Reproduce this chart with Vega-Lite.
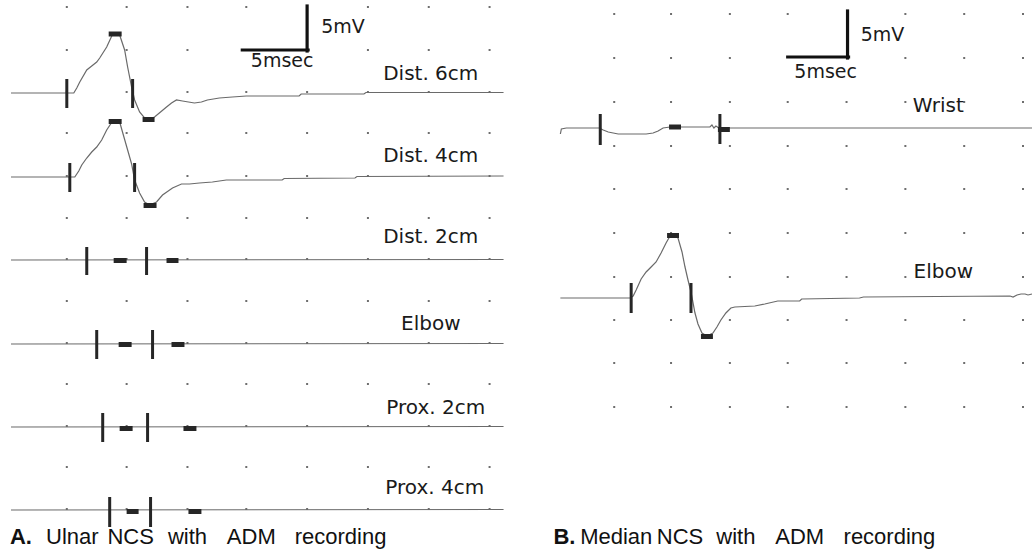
{
  "$schema": "https://vega.github.io/schema/vega-lite/v6.json",
  "width": 1035,
  "height": 555,
  "autosize": {"type": "fit", "contains": "padding"},
  "padding": 0,
  "background": "white",
  "config": {"view": {"stroke": null}},
  "datasets": {
    "dots": [
      {"y": 7, "xs": [67, 127, 188, 247, 369, 430, 491]},
      {"y": 50, "xs": [67, 127, 188, 369, 430, 491]},
      {"y": 92, "xs": [67, 127, 188, 247, 308, 369, 430, 491]},
      {"y": 133, "xs": [67, 127, 188, 247, 308, 369, 430, 491]},
      {"y": 176, "xs": [67, 127, 188, 247, 308, 369, 430, 491]},
      {"y": 218, "xs": [67, 127, 188, 247, 308, 369, 430, 491]},
      {"y": 259, "xs": [67, 127, 188, 247, 308, 369, 430, 491]},
      {"y": 301, "xs": [67, 127, 188, 247, 308, 369, 430, 491]},
      {"y": 343, "xs": [67, 127, 188, 247, 308, 369, 430, 491]},
      {"y": 384, "xs": [67, 127, 188, 247, 308, 369, 430, 491]},
      {"y": 426, "xs": [67, 127, 188, 247, 308, 369, 430, 491]},
      {"y": 467, "xs": [67, 127, 188, 247, 308, 369, 430, 491]},
      {"y": 509, "xs": [67, 127, 188, 247, 308, 369, 430, 491]},
      {"y": 14, "xs": [616, 673, 732, 790, 908, 967, 1026]},
      {"y": 58, "xs": [616, 673, 732, 908, 967, 1026]},
      {"y": 102, "xs": [616, 673, 732, 790, 849, 908, 967, 1026]},
      {"y": 146, "xs": [616, 673, 732, 790, 849, 908, 967, 1026]},
      {"y": 189, "xs": [616, 673, 732, 790, 849, 908, 967, 1026]},
      {"y": 233, "xs": [616, 673, 732, 790, 849, 908, 967, 1026]},
      {"y": 277, "xs": [616, 673, 732, 790, 849, 908, 967, 1026]},
      {"y": 320, "xs": [616, 673, 732, 790, 849, 908, 967, 1026]},
      {"y": 363, "xs": [616, 673, 732, 790, 849, 908, 967, 1026]},
      {"y": 407, "xs": [616, 673, 732, 790, 849, 908, 967, 1026]}
    ],
    "traces": [
      {"t": "A Dist. 6cm", "x": 11, "y": 93}, {"t": "A Dist. 6cm", "x": 66, "y": 93}, {"t": "A Dist. 6cm", "x": 74, "y": 93},
      {"t": "A Dist. 6cm", "x": 77, "y": 88}, {"t": "A Dist. 6cm", "x": 80, "y": 82}, {"t": "A Dist. 6cm", "x": 87, "y": 70},
      {"t": "A Dist. 6cm", "x": 92, "y": 66}, {"t": "A Dist. 6cm", "x": 97, "y": 62}, {"t": "A Dist. 6cm", "x": 100, "y": 58},
      {"t": "A Dist. 6cm", "x": 107, "y": 47}, {"t": "A Dist. 6cm", "x": 113, "y": 34}, {"t": "A Dist. 6cm", "x": 117, "y": 33},
      {"t": "A Dist. 6cm", "x": 120, "y": 35}, {"t": "A Dist. 6cm", "x": 125, "y": 50}, {"t": "A Dist. 6cm", "x": 128, "y": 67},
      {"t": "A Dist. 6cm", "x": 132, "y": 87}, {"t": "A Dist. 6cm", "x": 135, "y": 100}, {"t": "A Dist. 6cm", "x": 140, "y": 112},
      {"t": "A Dist. 6cm", "x": 145, "y": 118}, {"t": "A Dist. 6cm", "x": 150, "y": 119}, {"t": "A Dist. 6cm", "x": 155, "y": 117},
      {"t": "A Dist. 6cm", "x": 161, "y": 112}, {"t": "A Dist. 6cm", "x": 167, "y": 107}, {"t": "A Dist. 6cm", "x": 172, "y": 103},
      {"t": "A Dist. 6cm", "x": 177, "y": 100}, {"t": "A Dist. 6cm", "x": 183, "y": 101}, {"t": "A Dist. 6cm", "x": 189, "y": 102},
      {"t": "A Dist. 6cm", "x": 195, "y": 103}, {"t": "A Dist. 6cm", "x": 202, "y": 102}, {"t": "A Dist. 6cm", "x": 208, "y": 100},
      {"t": "A Dist. 6cm", "x": 214, "y": 99}, {"t": "A Dist. 6cm", "x": 220, "y": 98}, {"t": "A Dist. 6cm", "x": 233, "y": 97},
      {"t": "A Dist. 6cm", "x": 247, "y": 96}, {"t": "A Dist. 6cm", "x": 300, "y": 96}, {"t": "A Dist. 6cm", "x": 302, "y": 94},
      {"t": "A Dist. 6cm", "x": 365, "y": 94}, {"t": "A Dist. 6cm", "x": 367, "y": 92.5}, {"t": "A Dist. 6cm", "x": 505, "y": 92.5},

      {"t": "A Dist. 4cm", "x": 11, "y": 177}, {"t": "A Dist. 4cm", "x": 69, "y": 177}, {"t": "A Dist. 4cm", "x": 75, "y": 177},
      {"t": "A Dist. 4cm", "x": 79, "y": 171}, {"t": "A Dist. 4cm", "x": 82, "y": 165}, {"t": "A Dist. 4cm", "x": 87, "y": 158},
      {"t": "A Dist. 4cm", "x": 92, "y": 152}, {"t": "A Dist. 4cm", "x": 97, "y": 147}, {"t": "A Dist. 4cm", "x": 102, "y": 140},
      {"t": "A Dist. 4cm", "x": 107, "y": 130}, {"t": "A Dist. 4cm", "x": 113, "y": 121}, {"t": "A Dist. 4cm", "x": 117, "y": 120},
      {"t": "A Dist. 4cm", "x": 120, "y": 122}, {"t": "A Dist. 4cm", "x": 124, "y": 136}, {"t": "A Dist. 4cm", "x": 128, "y": 150},
      {"t": "A Dist. 4cm", "x": 132, "y": 164}, {"t": "A Dist. 4cm", "x": 135, "y": 180}, {"t": "A Dist. 4cm", "x": 140, "y": 193},
      {"t": "A Dist. 4cm", "x": 145, "y": 202}, {"t": "A Dist. 4cm", "x": 150, "y": 205}, {"t": "A Dist. 4cm", "x": 157, "y": 202},
      {"t": "A Dist. 4cm", "x": 163, "y": 195}, {"t": "A Dist. 4cm", "x": 173, "y": 188}, {"t": "A Dist. 4cm", "x": 182, "y": 184},
      {"t": "A Dist. 4cm", "x": 190, "y": 184}, {"t": "A Dist. 4cm", "x": 200, "y": 183}, {"t": "A Dist. 4cm", "x": 213, "y": 182},
      {"t": "A Dist. 4cm", "x": 227, "y": 180}, {"t": "A Dist. 4cm", "x": 283, "y": 180}, {"t": "A Dist. 4cm", "x": 285, "y": 178.5},
      {"t": "A Dist. 4cm", "x": 356, "y": 178}, {"t": "A Dist. 4cm", "x": 358, "y": 176.5}, {"t": "A Dist. 4cm", "x": 505, "y": 176},

      {"t": "A Dist. 2cm", "x": 11, "y": 260}, {"t": "A Dist. 2cm", "x": 505, "y": 259.5},
      {"t": "A Elbow", "x": 11, "y": 344}, {"t": "A Elbow", "x": 505, "y": 343.5},
      {"t": "A Prox. 2cm", "x": 11, "y": 427}, {"t": "A Prox. 2cm", "x": 505, "y": 426.5},
      {"t": "A Prox. 4cm", "x": 11, "y": 510}, {"t": "A Prox. 4cm", "x": 505, "y": 509.5},

      {"t": "B Wrist", "x": 562, "y": 134}, {"t": "B Wrist", "x": 563, "y": 129}, {"t": "B Wrist", "x": 568, "y": 128},
      {"t": "B Wrist", "x": 601, "y": 128}, {"t": "B Wrist", "x": 605, "y": 130}, {"t": "B Wrist", "x": 610, "y": 132},
      {"t": "B Wrist", "x": 620, "y": 134}, {"t": "B Wrist", "x": 648, "y": 134}, {"t": "B Wrist", "x": 655, "y": 133},
      {"t": "B Wrist", "x": 660, "y": 131}, {"t": "B Wrist", "x": 665, "y": 128}, {"t": "B Wrist", "x": 672, "y": 127},
      {"t": "B Wrist", "x": 712, "y": 127}, {"t": "B Wrist", "x": 714, "y": 125}, {"t": "B Wrist", "x": 716, "y": 128},
      {"t": "B Wrist", "x": 718, "y": 126}, {"t": "B Wrist", "x": 721, "y": 128}, {"t": "B Wrist", "x": 1035, "y": 128},

      {"t": "B Elbow", "x": 562, "y": 298}, {"t": "B Elbow", "x": 632, "y": 298}, {"t": "B Elbow", "x": 635, "y": 296},
      {"t": "B Elbow", "x": 638, "y": 290}, {"t": "B Elbow", "x": 643, "y": 279}, {"t": "B Elbow", "x": 648, "y": 272},
      {"t": "B Elbow", "x": 653, "y": 267}, {"t": "B Elbow", "x": 658, "y": 262}, {"t": "B Elbow", "x": 663, "y": 253},
      {"t": "B Elbow", "x": 668, "y": 243}, {"t": "B Elbow", "x": 672, "y": 236}, {"t": "B Elbow", "x": 676, "y": 235},
      {"t": "B Elbow", "x": 680, "y": 238}, {"t": "B Elbow", "x": 684, "y": 252}, {"t": "B Elbow", "x": 687, "y": 267},
      {"t": "B Elbow", "x": 690, "y": 280}, {"t": "B Elbow", "x": 693, "y": 292}, {"t": "B Elbow", "x": 697, "y": 313},
      {"t": "B Elbow", "x": 700, "y": 324}, {"t": "B Elbow", "x": 704, "y": 333}, {"t": "B Elbow", "x": 709, "y": 336},
      {"t": "B Elbow", "x": 715, "y": 333}, {"t": "B Elbow", "x": 719, "y": 327}, {"t": "B Elbow", "x": 723, "y": 320},
      {"t": "B Elbow", "x": 728, "y": 313}, {"t": "B Elbow", "x": 733, "y": 308}, {"t": "B Elbow", "x": 737, "y": 307},
      {"t": "B Elbow", "x": 757, "y": 306}, {"t": "B Elbow", "x": 767, "y": 304}, {"t": "B Elbow", "x": 780, "y": 301},
      {"t": "B Elbow", "x": 802, "y": 301}, {"t": "B Elbow", "x": 804, "y": 299}, {"t": "B Elbow", "x": 862, "y": 298},
      {"t": "B Elbow", "x": 866, "y": 297}, {"t": "B Elbow", "x": 1013, "y": 296}, {"t": "B Elbow", "x": 1016, "y": 297},
      {"t": "B Elbow", "x": 1020, "y": 295}, {"t": "B Elbow", "x": 1024, "y": 294}, {"t": "B Elbow", "x": 1028, "y": 294},
      {"t": "B Elbow", "x": 1031, "y": 295}, {"t": "B Elbow", "x": 1035, "y": 294}
    ],
    "cursors": [
      {"t": "A Dist. 6cm", "x": 67, "y": 79, "y2": 108}, {"t": "A Dist. 6cm", "x": 133, "y": 79, "y2": 108},
      {"t": "A Dist. 4cm", "x": 70, "y": 163, "y2": 192}, {"t": "A Dist. 4cm", "x": 135, "y": 163, "y2": 192},
      {"t": "A Dist. 2cm", "x": 87, "y": 247, "y2": 275}, {"t": "A Dist. 2cm", "x": 147, "y": 247, "y2": 275},
      {"t": "A Elbow", "x": 97, "y": 330, "y2": 359}, {"t": "A Elbow", "x": 153, "y": 330, "y2": 359},
      {"t": "A Prox. 2cm", "x": 103, "y": 413, "y2": 442}, {"t": "A Prox. 2cm", "x": 148, "y": 413, "y2": 442},
      {"t": "A Prox. 4cm", "x": 110, "y": 497, "y2": 527}, {"t": "A Prox. 4cm", "x": 151, "y": 497, "y2": 527},
      {"t": "B Wrist", "x": 602, "y": 114, "y2": 145}, {"t": "B Wrist", "x": 722, "y": 114, "y2": 144},
      {"t": "B Elbow", "x": 633, "y": 283, "y2": 313}, {"t": "B Elbow", "x": 693, "y": 283, "y2": 313}
    ],
    "peaks": [
      {"t": "A Dist. 6cm", "x": 109, "x2": 122, "y": 31.5, "y2": 36.5}, {"t": "A Dist. 6cm", "x": 143, "x2": 155, "y": 117, "y2": 122},
      {"t": "A Dist. 4cm", "x": 109, "x2": 122, "y": 119, "y2": 124}, {"t": "A Dist. 4cm", "x": 144, "x2": 157, "y": 203, "y2": 208},
      {"t": "A Dist. 2cm", "x": 114, "x2": 127, "y": 258, "y2": 263}, {"t": "A Dist. 2cm", "x": 167, "x2": 179, "y": 258, "y2": 263},
      {"t": "A Elbow", "x": 119, "x2": 132, "y": 342, "y2": 347}, {"t": "A Elbow", "x": 172, "x2": 185, "y": 342, "y2": 347},
      {"t": "A Prox. 2cm", "x": 120, "x2": 133, "y": 426, "y2": 431}, {"t": "A Prox. 2cm", "x": 184, "x2": 197, "y": 426, "y2": 431},
      {"t": "A Prox. 4cm", "x": 127, "x2": 139, "y": 509, "y2": 514}, {"t": "A Prox. 4cm", "x": 189, "x2": 202, "y": 509, "y2": 514},
      {"t": "B Wrist", "x": 671, "x2": 683, "y": 124.5, "y2": 129.5}, {"t": "B Wrist", "x": 720, "x2": 732, "y": 127, "y2": 132},
      {"t": "B Elbow", "x": 669, "x2": 681, "y": 233, "y2": 238}, {"t": "B Elbow", "x": 703, "x2": 715, "y": 334, "y2": 339}
    ],
    "scalebars": [
      {"x": 308, "x2": 308, "y": 6, "y2": 51}, {"x": 243, "x2": 309, "y": 50, "y2": 50},
      {"x": 850, "x2": 850, "y": 11, "y2": 58}, {"x": 790, "x2": 851, "y": 57, "y2": 57}
    ],
    "labels": [
      {"label": "Dist. 6cm", "x": 432, "y": 80},
      {"label": "Dist. 4cm", "x": 432, "y": 162},
      {"label": "Dist. 2cm", "x": 432, "y": 243},
      {"label": "Elbow", "x": 432, "y": 330},
      {"label": "Prox. 2cm", "x": 437, "y": 414},
      {"label": "Prox. 4cm", "x": 436, "y": 494},
      {"label": "Wrist", "x": 941, "y": 112},
      {"label": "Elbow", "x": 946, "y": 278}
    ],
    "scalelabels": [
      {"label": "5mV", "x": 344, "y": 33},
      {"label": "5msec", "x": 283, "y": 67},
      {"label": "5mV", "x": 885, "y": 41},
      {"label": "5msec", "x": 828, "y": 78}
    ],
    "captionBold": [
      {"label": "A.", "x": 10, "y": 544},
      {"label": "B.", "x": 555, "y": 544}
    ],
    "captionWords": [
      {"label": "Ulnar", "x": 72.5, "y": 544}, {"label": "NCS", "x": 131, "y": 544}, {"label": "with", "x": 188, "y": 544},
      {"label": "ADM", "x": 252, "y": 544}, {"label": "recording", "x": 341.5, "y": 544},
      {"label": "Median", "x": 618, "y": 544}, {"label": "NCS", "x": 682, "y": 544}, {"label": "with", "x": 738, "y": 544},
      {"label": "ADM", "x": 802, "y": 544}, {"label": "recording", "x": 892, "y": 544}
    ]
  },
  "encoding": {
    "x": {"field": "x", "type": "quantitative", "axis": null, "scale": {"domain": [0, 1035], "nice": false, "zero": false}},
    "y": {"field": "y", "type": "quantitative", "axis": null, "scale": {"domain": [0, 555], "nice": false, "zero": false, "reverse": true}}
  },
  "layer": [
    {
      "data": {"name": "dots"},
      "transform": [{"flatten": ["xs"], "as": ["x"]}],
      "mark": {"type": "square", "size": 4, "color": "#6e6e6e", "opacity": 1}
    },
    {
      "data": {"name": "traces"},
      "mark": {"type": "line", "stroke": "#6a6a6a", "strokeWidth": 1.2, "interpolate": "linear"},
      "encoding": {"detail": {"field": "t"}, "order": {"value": null}}
    },
    {
      "data": {"name": "cursors"},
      "mark": {"type": "rule", "stroke": "#262626", "strokeWidth": 3},
      "encoding": {"y2": {"field": "y2"}}
    },
    {
      "data": {"name": "peaks"},
      "mark": {"type": "rect", "fill": "#262626"},
      "encoding": {"x2": {"field": "x2"}, "y2": {"field": "y2"}}
    },
    {
      "data": {"name": "scalebars"},
      "mark": {"type": "rule", "stroke": "#111111", "strokeWidth": 3.2, "strokeCap": "square"},
      "encoding": {"x2": {"field": "x2"}, "y2": {"field": "y2"}}
    },
    {
      "data": {"name": "labels"},
      "mark": {"type": "text", "font": "DejaVu Sans", "fontSize": 20, "align": "center", "baseline": "alphabetic", "color": "#1a1a1a"},
      "encoding": {"text": {"field": "label"}}
    },
    {
      "data": {"name": "scalelabels"},
      "mark": {"type": "text", "font": "DejaVu Sans", "fontSize": 19, "align": "center", "baseline": "alphabetic", "color": "#1a1a1a"},
      "encoding": {"text": {"field": "label"}}
    },
    {
      "data": {"name": "captionBold"},
      "mark": {"type": "text", "font": "Liberation Sans", "fontSize": 22, "fontWeight": "bold", "align": "left", "baseline": "alphabetic", "color": "#111111"},
      "encoding": {"text": {"field": "label"}}
    },
    {
      "data": {"name": "captionWords"},
      "mark": {"type": "text", "font": "Liberation Sans", "fontSize": 22, "align": "center", "baseline": "alphabetic", "color": "#111111"},
      "encoding": {"text": {"field": "label"}}
    }
  ]
}
